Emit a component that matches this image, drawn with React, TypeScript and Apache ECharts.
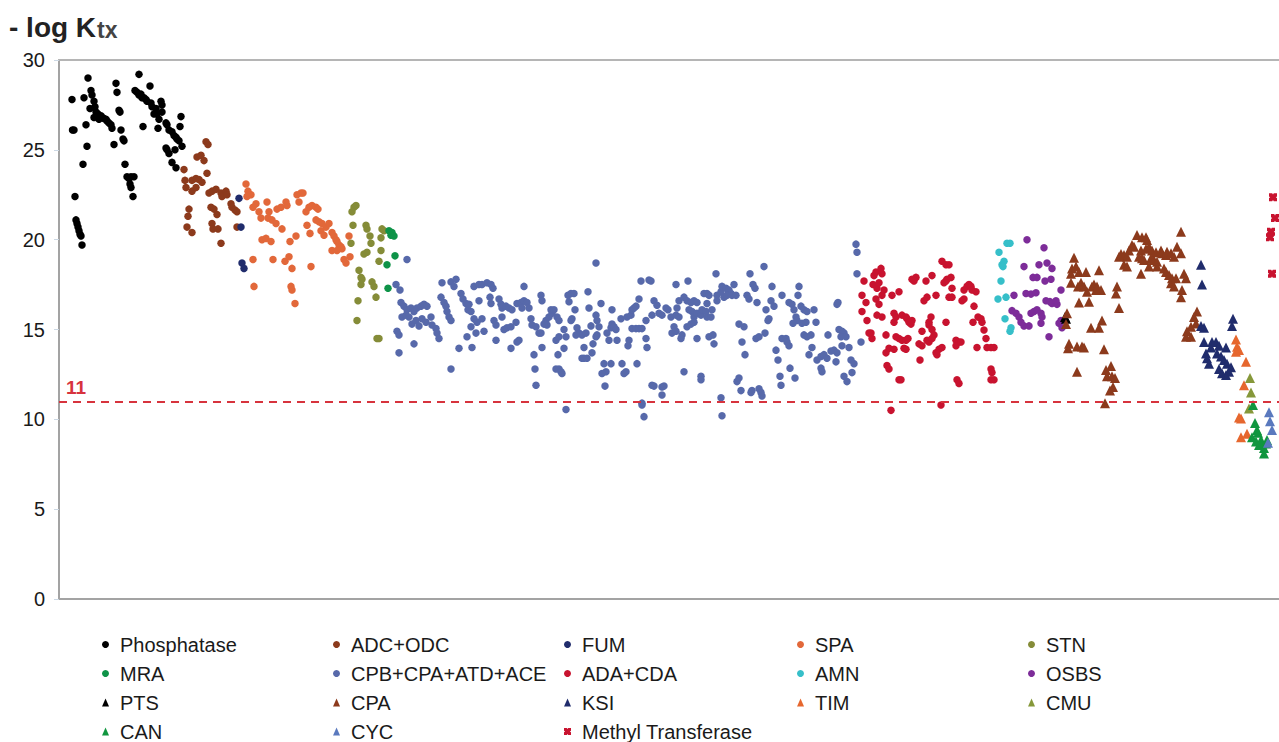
import React, { useEffect, useRef } from "react";
import * as echarts from "echarts";

// x = sample position (order along the screening set), y = -log Ktx
const phosphatase = [[13,27.8],[13.5,26.1],[15,26.1],[16,22.4],[17,21.1],[18,20.9],[19,20.7],[20,20.5],[21,20.3],[22,20.2],[23,19.7],[25,27.9],[27,26.4],[28,25.2],[24,24.2],[29,29.0],
[32,28.3],[33,28.05],[35,27.7],[36,27.4],[31,27.3],[37,27.1],[39,27.0],[35,26.8],[42,26.9],[43,26.8],[40,26.7],[45,26.75],[47,26.7],[48,26.6],[50,26.5],[52,26.4],[53,26.2],
[57,28.7],[58,28.2],[60,27.2],[61,27.1],[62,26.1],[55,25.3],[64,25.6],[65,25.5],[66,24.2],[68,23.5],[70,23.4],[72,23.5],[75,23.5],[71,23.1],[72,22.9],[74,22.4],
[80,29.2],[76,28.3],[78,28.2],[80,28.05],[82,28.1],[83,27.9],[85,27.9],[87,27.8],
[91,28.55],[88,27.7],[92,27.6],[93,27.4],[97,27.3],[95,27.0],[98,27.0],[102,27.7],[103,27.5],[103,27.1],
[84,26.3],[100,26.7],[99,26.2],[107,26.5],[108,26.4],[110,26.1],[113,26.0],[115,25.8],[117,25.7],[118,25.6],[120,25.5],[122,26.85],[121,26.3],[107,25.1],[108,25.0],[110,24.8],[116,25.0],[123,25.2],[113,24.3],[117,24.0]];

const adcOdc = [[125,23.9],[126,23.3],[127,22.9],[133,23.3],[137,23.4],[140,23.35],[143,23.2],[138,24.6],[142,24.7],[145,24.4],[147,25.45],[149,25.3],[148,23.7],[133,22.7],[137,22.9],[150,22.6],[153,22.7],[157,22.8],[162,22.6],[163,22.4],[167,22.7],[168,22.5],[152,21.8],[155,21.7],[158,21.4],[130,21.7],[129,21.3],[128,20.7],[133,20.4],[153,20.9],[154,20.6],[159,20.6],[162,19.8],[172,22.0],[173,21.8],[176,21.65],[178,21.55],[178,20.7]];

const fum = [[180,22.3],[182,20.7],[183,18.7],[185,18.4]];

const spa = [[187,23.1],[189,22.7],[192,22.5],[188,22.4],[194,21.8],[197,22.0],[200,21.55],[202,21.2],[203,20.0],[194,18.9],[195,17.4],
[208,22.1],[210,21.55],[209,21.2],[213,21.1],[217,20.9],[218,21.7],[222,21.8],[227,22.1],[228,21.9],[223,20.6],[207,20.07],[212,19.9],[214,18.9],[226,18.8],[230,19.05],[231,19.9],[237,20.2],[233,18.4],[232,17.4],[233,17.2],[236,16.45],[238,22.5],[242,22.6],[244,22.6],[240,22.1],[247,21.55],[250,21.8],[253,21.9],[257,21.8],[259,21.7],[248,20.8],[251,20.35],[252,18.5],[257,21.1],[260,21.0],[263,20.9],[267,20.7],[270,20.9],[262,20.5],[265,20.25],[273,20.4],[275,20.2],[277,20.0],[278,19.9],[280,19.7],[282,19.6],[283,19.5],[273,19.4],[278,19.4],[285,18.9],[287,18.7],[290,20.2],[291,19.05]];

const stn = [[293,21.55],[295,21.8],[297,21.9],[294,20.8],[292,19.8],[307,20.8],[308,20.6],[311,20.2],[312,19.8],[323,20.6],[325,20.5],[322,20.1],[322,19.4],[305,19.2],[308,19.3],[320,18.8],[300,18.3],[302,17.9],[303,17.8],[302,17.5],[313,17.65],[315,17.4],[317,16.8],[299,16.6],[298,15.5],[318,14.5],[320,14.5]];

const mra = [[330,20.5],[333,20.4],[332,20.25],[335,20.2],[336,19.1],[328,18.6],[329,17.3]];

const cpb = [[348,18.9],[337,17.5],[341,17.2],[342,16.5],[345,16.3],[348,16.1],[352,16.2],[355,16.0],[358,16.2],[362,16.3],[365,16.4],[368,16.3],[343,15.7],[347,15.8],[350,15.7],[353,15.3],[357,15.5],[360,15.2],[363,15.6],[367,15.4],[338,14.9],[340,14.7],[340,13.7],[355,14.2],[372,15.7],[373,15.25],[377,15.05],[378,14.8],[380,14.5],[383,17.6],[392,17.65],[395,17.4],[397,17.8],[382,16.8],[385,16.5],[387,16.3],[388,16.0],[390,15.7],[392,15.5],[402,17.0],[404,16.7],[407,16.45],[409,16.1],[400,13.95],[392,12.8],[408,14.6],
[415,17.4],[420,17.5],[423,17.5],[428,17.6],[432,17.5],[434,17.3],[410,16.4],[412,16.0],[420,16.6],[415,15.6],[418,15.4],[423,15.6],[412,15.15],[417,14.8],[413,14.0],[425,14.9],[431,16.8],[432,16.45],[435,15.5],[437,15.25],[437,14.4],[440,16.7],[442,16.4],[443,16.2],[447,16.3],[450,16.2],[453,16.1],[443,15.7],[445,15.0],[448,15.1],[452,15.15],[458,16.45],[462,16.5],[465,16.6],[468,16.5],[470,16.2],[463,16.2],[465,17.4],[457,15.4],[460,14.4],[458,14.3],[452,13.95],[472,15.6],[473,15.25],[477,15.15],[480,14.8],[483,14.0],[475,13.6],[476,12.8],[477,11.9],[482,16.9],[483,16.6],[487,15.5],[490,15.7],[493,15.9],[492,16.1],[488,15.25],[485,15.3],[495,16.1],[482,14.8],[498,15.7],[500,15.5],[497,14.4],[500,14.6],[499,13.6],[497,12.8],[500,12.8],[502,12.65],[503,12.55],[507,10.55],[505,13.95],[507,14.6],[505,15.0],[509,16.9],[512,17.0],[515,17.0],[510,16.55],[516,16.1],[513,15.6],[512,15.5],[518,15.1],[520,14.8],[523,14.7],[527,14.8],[517,14.7],[525,14.0],[523,13.4],[525,13.4],[528,13.4],[529,17.1],[530,16.2],[532,15.2],[533,13.7],[534,14.2],[537,18.7],[537,15.8],[538,15.5],[540,15.15],[538,14.7],[537,14.6],[542,16.45],[545,13.1],[547,12.65],[543,12.55],[546,11.85],[548,14.8],[552,15.1],[553,15.3],[555,15.15],[557,15.0],[558,14.4],[550,14.4],[553,16.1],[552,13.1],[562,15.6],[563,13.1],[565,12.55],[567,12.65],[568,15.7],[572,15.8],[573,16.1],[575,16.2],[577,16.3],[570,14.4],[569,14.1],[573,15.05],[577,15.05],[580,15.05],[583,15.05],[580,16.7],[582,17.7],[590,17.75],[592,17.7],[578,13.1],[587,15.5],[587,14.5],[588,14.0],[583,10.9],[585,10.15],[583,10.8],[593,11.9],[595,11.85],[603,11.8],[605,11.85],[603,11.35],[595,16.6],[598,16.35],[600,15.9],[603,15.8],[607,16.2],[609,16.1],[612,15.7],[613,14.8],[593,15.8],
[617,17.5],[620,16.6],[625,16.8],[628,16.6],[632,16.5],[635,16.6],[638,16.5],[618,16.2],[617,15.8],[620,15.7],[615,15.15],[617,14.9],[629,17.7],[630,16.1],[633,16.0],[635,15.7],[638,15.9],[642,15.8],[643,16.1],[647,16.0],[648,15.7],[652,15.7],[653,16.1],[623,14.7],[622,14.5],[628,15.15],[632,15.3],[635,15.4],[638,14.5],[625,12.65],[642,12.4],[642,12.2],[645,17.0],[648,17.0],[650,16.9],[648,16.45],[650,14.6],[654,14.7],[655,14.2],[657,18.1],[658,16.9],[662,17.1],[663,17.4],[667,17.3],[670,17.2],[672,17.0],[673,16.9],[677,16.9],[675,17.5],[665,16.8],[668,16.9],[658,16.6],[662,11.2],[663,10.2],[680,15.3],[685,15.15],[678,12.1],[680,12.3],[682,11.6],[683,14.3],[686,13.6],[688,16.9],[690,16.7],[691,18.1],[694,17.5],[696,17.3],[698,16.5],[693,11.6],[692,11.5],[700,11.7],[702,11.5],[703,11.3],[697,14.5],[700,14.6],[705,18.5],[706,14.8],[707,16.1],[710,15.6],[709,15.5],[712,16.6],[713,17.4],[715,16.3],[717,13.85],[719,13.3],[721,12.4],[722,11.9],[723,16.9],[723,14.5],[727,14.5],[728,14.3],[730,14.1],[730,16.5],[733,16.4],[735,16.1],[737,15.7],[738,15.5],[734,15.35],[731,12.85],[736,12.3],[739,16.9],[740,17.4],[742,16.3],[745,16.1],[748,16.0],[743,15.35],[747,15.4],[745,14.7],[748,14.6],[752,14.7],[753,14.0],[750,13.6],[755,16.1],[757,15.4],[758,13.3],[762,13.5],[765,13.6],[768,13.4],[772,13.8],[775,13.85],[778,13.7],[777,13.2],[762,12.85],[763,12.65],[769,14.7],[778,16.4],[779,16.5],[780,15.0],[783,14.9],[785,14.8],[782,14.6],[787,14.6],[783,14.1],[790,14.0],[792,13.3],[795,13.1],[793,12.6],[785,12.4],[788,12.1],[797,19.75],[798,19.3],[798,18.1],[802,14.3]];

const adaCda = [[805,17.7],[803,16.9],[807,16.5],[803,16.0],[808,15.5],[812,14.8],[813,14.5],[810,14.8],[815,18.0],[817,18.2],[814,17.5],[818,17.3],[817,16.7],[818,15.8],
[822,18.4],[823,18.1],[820,17.6],[825,17.2],[823,16.9],[820,16.4],[823,15.7],[833,16.9],[840,17.1],[827,14.7],[827,13.7],[828,13.0],[830,12.8],[840,12.2],[842,12.2],[832,10.5],[835,15.9],[837,15.7],[835,15.4],[843,15.8],[847,15.7],[848,15.6],[850,15.4],[852,15.3],[853,15.5],[837,14.6],[840,14.5],[843,14.4],[847,14.4],[849,14.5],[830,13.95],[835,13.9],[845,13.95],[847,13.9],[853,17.8],[857,17.9],[855,17.7],[867,17.7],[873,18.0],[865,16.6],[868,16.8],[877,16.9],[863,14.9],[873,15.0],[875,14.7],[870,15.4],[872,15.7],[870,15.25],[860,14.2],[863,14.1],[868,14.4],[870,14.3],[873,14.5],[861,13.3],[877,13.7],[880,13.9],[883,14.0],[878,13.6],[883,18.8],[887,18.6],[890,18.6],[885,17.6],[887,17.7],[888,17.8],[892,17.9],[890,16.8],[893,16.8],[893,17.3],[887,15.4],[897,14.4],[900,14.3],[897,14.1],[902,14.3],[898,12.2],[900,12.0],[882,10.8],[903,16.6],[905,16.7],[905,17.2],[908,17.4],[910,17.5],[912,17.4],[913,17.2],[917,17.1],[915,16.3],[914,15.4],[919,15.7],[922,15.6],[923,15.4],[925,14.97],[927,14.5],[928,14.0],[932,14.0],[935,14.0],[918,14.0],[932,12.8],[933,12.6],[935,12.2],[932,12.2]];

const amn = [[948,19.8],[951,19.8],[940,19.3],[943,18.6],[945,18.8],[944,18.5],[942,17.7],[947,16.8],[939,16.7],[946,15.6],[952,15.1],[951,14.9]];

const osbs = [[968,20.0],[985,19.55],[965,18.5],[980,18.6],[988,18.7],[993,18.4],[974,17.9],[978,17.9],[992,17.8],[986,17.7],[955,16.9],[967,17.0],[972,16.97],[977,17.05],[987,16.6],[991,16.55],[993,16.45],[998,16.4],[997,16.6],[1002,17.2],[953,16.05],[957,15.9],[960,15.7],[962,15.4],[965,15.2],[970,15.2],[972,15.9],[975,16.0],[978,16.1],[982,15.9],[983,15.7],[982,15.35],[1000,15.35],[1002,15.5],[1003,15.1],[990,14.6]];

const pts = [[1006,15.7],[1007,15.6]];

const cpa = [[1015,19.0],[1013,18.4],[1012,18.1],[1017,18.5],[1020,18.2],[1012,17.6],[1019,17.4],[1022,17.6],[1020,16.5],[1008,15.9],[1007,15.3],[1010,14.2],[1009,13.95],[1018,14.05],[1023,14.05],[1018,12.65],
[1027,18.2],[1040,18.3],[1025,17.4],[1028,17.1],[1030,16.55],[1033,17.4],[1035,17.5],[1038,17.4],[1042,17.2],[1037,17.2],[1058,17.4],[1057,17.0],[1060,16.2],[1032,15.1],[1040,15.1],[1043,15.5],[1025,14.0],[1045,13.9],[1047,12.75],[1052,12.97],[1048,12.4],[1053,12.4],[1056,12.3],[1051,11.6],[1054,11.8],[1046,10.9],
[1078,20.26],[1083,20.13],[1087,20.13],[1088,19.98],[1073,19.7],[1075,19.6],[1070,19.4],[1082,19.4],[1087,19.5],[1090,19.6],[1093,19.4],[1097,19.3],[1062,19.2],[1065,19.15],[1068,19.05],[1060,19.05],[1065,18.6],[1068,18.5],[1080,19.05],[1083,18.96],[1085,18.87],[1092,18.96],[1095,18.87],[1098,18.77],[1102,19.4],[1103,19.24],[1107,19.15],[1108,19.33],[1112,19.24],[1115,19.05],[1118,19.6],[1122,19.24],[1122,20.44],[1082,18.1],[1090,18.5],[1098,18.5],[1105,18.4],[1107,18.2],[1110,18.03],[1113,17.85],[1112,17.57],[1115,17.4],[1117,17.85],[1125,18.1],[1127,17.85],[1123,17.2],[1122,16.8],
[1138,16.0],[1135,15.7],[1137,15.34],[1132,15.16],[1128,14.9],[1127,14.6],[1132,14.6]];

const ksi = [[1142,18.6],[1143,17.5],[1142,15.2],[1145,15.1],[1174,15.6],[1173,15.2],[1145,14.3],[1153,14.3],[1157,14.3],[1152,14.0],[1160,14.1],[1167,14.0],[1147,13.67],[1148,13.4],[1150,13.1],[1158,13.67],[1162,13.5],[1165,13.3],[1168,13.1],[1172,12.9],[1160,12.8],[1163,12.56],[1167,12.47],[1170,12.65]];

const tim = [[1177,14.45],[1178,14.04],[1180,13.86],[1177,13.76],[1187,13.2],[1185,11.9],[1182,10.05],[1180,10.1],[1182,9.0],[1188,9.2]];

const cmu = [[1191,12.3],[1192,11.5],[1190,10.6]];

const can = [[1194,10.8],[1196,9.8],[1198,9.4],[1199,9.25],[1193,9.0],[1197,8.76],[1202,8.85],[1200,8.57],[1203,8.66],[1205,8.4],[1205,8.1],[1208,8.85],[1207,8.66]];

const cyc = [[1210,10.4],[1211,9.9],[1213,9.4],[1209,8.7]];

const methyl = [[1214,22.36],[1216,21.2],[1212,20.44],[1211,20.13],[1213,18.1]];

const yTicks = { min: 0, max: 30, interval: 5 };
const thresholdValue = 11;

const CROSS = "path://M0,0 L4,0 L5,1.6 L6,0 L10,0 L10,4 L8.4,5 L10,6 L10,10 L6,10 L5,8.4 L4,10 L0,10 L0,6 L1.6,5 L0,4 Z";

const seriesDefs = [
  { name: "Phosphatase", data: phosphatase, color: "#000000", symbol: "circle" },
  { name: "ADC+ODC", data: adcOdc, color: "#8C3A1C", symbol: "circle" },
  { name: "FUM", data: fum, color: "#202C6C", symbol: "circle" },
  { name: "SPA", data: spa, color: "#E2683A", symbol: "circle" },
  { name: "STN", data: stn, color: "#858C38", symbol: "circle" },
  { name: "MRA", data: mra, color: "#0E9348", symbol: "circle" },
  { name: "CPB+CPA+ATD+ACE", data: cpb, color: "#5769AA", symbol: "circle" },
  { name: "ADA+CDA", data: adaCda, color: "#C8132F", symbol: "circle" },
  { name: "AMN", data: amn, color: "#36BFC9", symbol: "circle" },
  { name: "OSBS", data: osbs, color: "#7D2C99", symbol: "circle" },
  { name: "PTS", data: pts, color: "#000000", symbol: "triangle" },
  { name: "CPA", data: cpa, color: "#8C3A1C", symbol: "triangle" },
  { name: "KSI", data: ksi, color: "#202C6C", symbol: "triangle" },
  { name: "TIM", data: tim, color: "#E6672E", symbol: "triangle" },
  { name: "CMU", data: cmu, color: "#86983A", symbol: "triangle" },
  { name: "CAN", data: can, color: "#10963F", symbol: "triangle" },
  { name: "CYC", data: cyc, color: "#5A79BE", symbol: "triangle" },
  { name: "Methyl Transferase", data: methyl, color: "#C8132F", symbol: CROSS },
];

const legendColumns = [
  ["Phosphatase", "MRA", "PTS", "CAN"],
  ["ADC+ODC", "CPB+CPA+ATD+ACE", "CPA", "CYC"],
  ["FUM", "ADA+CDA", "KSI", "Methyl Transferase"],
  ["SPA", "AMN", "TIM"],
  ["STN", "OSBS", "CMU"],
];
const legendLefts = [102, 333, 564, 797, 1028];

export default function App() {
  const ref = useRef<HTMLDivElement>(null);
  useEffect(() => {
    if (!ref.current) return;
    const chart = echarts.init(ref.current, undefined, { renderer: "svg" });
    const font = "'Liberation Sans', Arial, sans-serif";
    const series: any[] = seriesDefs.map((s, i) => ({
      type: "scatter",
      name: s.name,
      data: s.data,
      symbol: s.symbol,
      symbolSize: s.symbol === "circle" ? 7.5 : s.symbol === "triangle" ? 10 : 8,
      itemStyle: { color: s.color, opacity: 1 },
      ...(i === 0
        ? {
            markLine: {
              silent: true,
              symbol: "none",
              lineStyle: { color: "#D7333D", type: [8, 6], width: 2 },
              label: {
                show: true,
                position: "insideStartTop",
                formatter: String(thresholdValue),
                color: "#D7333D",
                fontWeight: "bold",
                fontSize: 19,
                fontFamily: font,
                distance: [7, 4],
              },
              data: [{ yAxis: thresholdValue }],
            },
          }
        : {}),
    }));
    chart.setOption({
      animation: false,
      backgroundColor: "#ffffff",
      title: {
        text: "{a|- log K}{b|tx}",
        left: 9,
        top: 9,
        padding: 0,
        textStyle: {
          rich: {
            a: { fontSize: 28, fontWeight: "bold", color: "#222", fontFamily: font, lineHeight: 32, verticalAlign: "bottom" },
            b: { fontSize: 23, fontWeight: "bold", color: "#444", fontFamily: font, lineHeight: 32, verticalAlign: "bottom", padding: [0, 0, 0, 1] },
          },
        },
      },
      grid: { left: 59, right: 0, top: 60, bottom: 143, containLabel: false },
      xAxis: [
        {
          type: "value",
          min: 0,
          max: 1220,
          position: "bottom",
          axisLine: { show: true, lineStyle: { color: "#A3A3A3", width: 2 } },
          axisTick: { show: false },
          axisLabel: { show: false },
          splitLine: { show: false },
        },
        {
          type: "value",
          min: 0,
          max: 1220,
          position: "top",
          axisLine: { show: true, onZero: false, lineStyle: { color: "#B5B5B5", width: 2 } },
          axisTick: { show: false },
          axisLabel: { show: false },
          splitLine: { show: false },
        },
      ],
      yAxis: {
        type: "value",
        min: yTicks.min,
        max: yTicks.max,
        interval: yTicks.interval,
        axisLine: { show: true, lineStyle: { color: "#A3A3A3", width: 2 } },
        axisTick: { show: true, length: 5, lineStyle: { color: "#CCD8E4" } },
        axisLabel: { color: "#1A1A1A", fontSize: 20, fontFamily: font, margin: 14 },
        splitLine: { show: false },
      },
      legend: legendColumns.map((col, i) => ({
        data: col,
        orient: "vertical",
        left: legendLefts[i],
        top: 634.5,
        height: 140,
        padding: 0,
        itemGap: 9,
        itemWidth: 7,
        itemHeight: 8,
        selectedMode: false,
        textStyle: { fontSize: 20, lineHeight: 20, color: "#1A1A1A", fontFamily: font, padding: [0, 0, 0, 6] },
      })),
      series,
    });
    return () => chart.dispose();
  }, []);
  return (
    <div
      ref={ref}
      style={{ position: "fixed", left: 0, top: 0, width: 1279, height: 742, background: "#fff" }}
    />
  );
}
